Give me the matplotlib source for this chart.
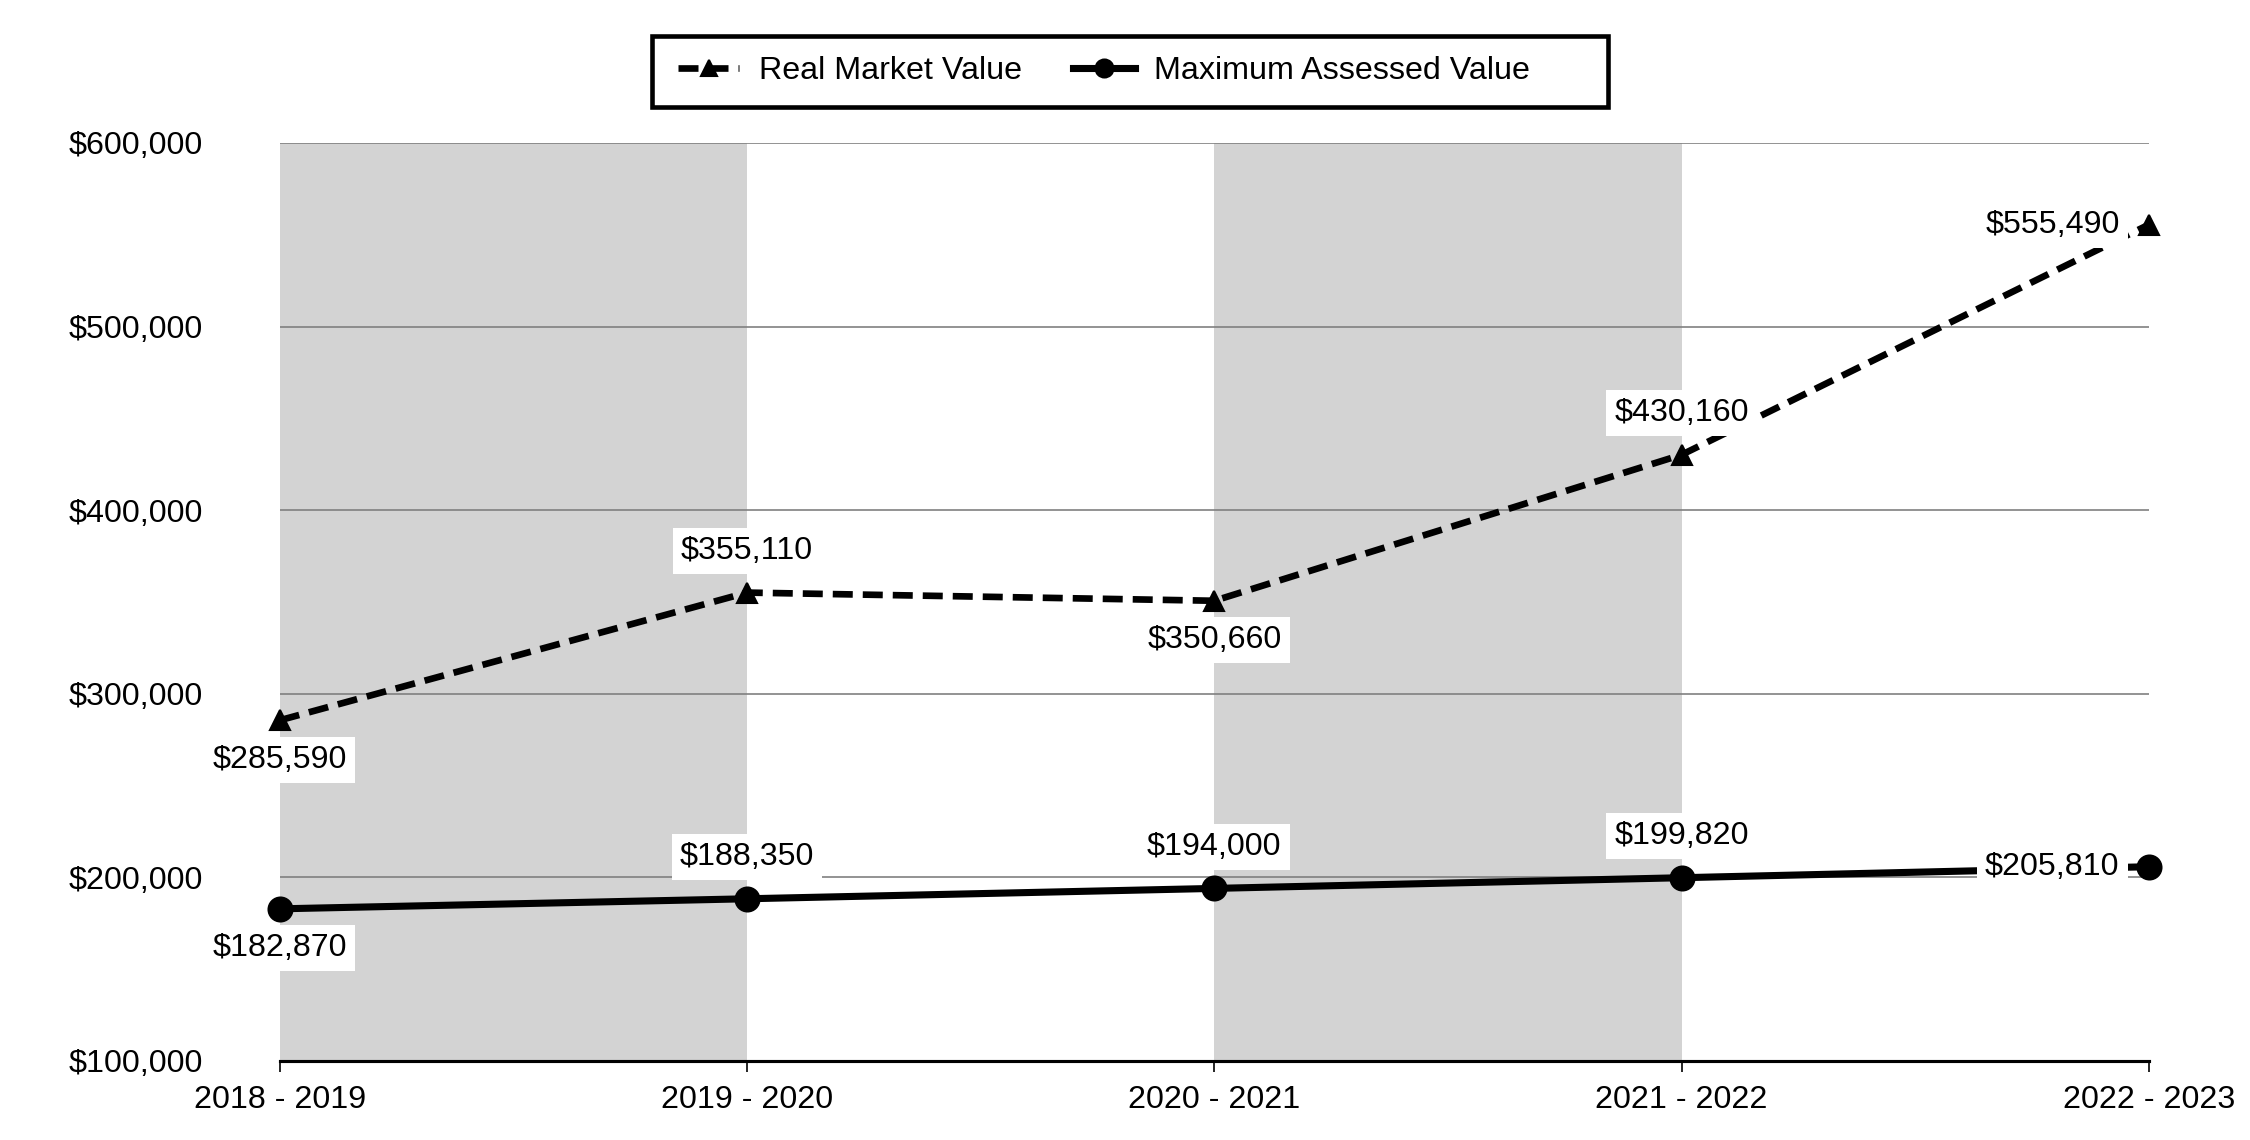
import matplotlib
matplotlib.use("Agg")
import matplotlib.pyplot as plt
from matplotlib.patches import Rectangle
from matplotlib.ticker import FuncFormatter

plt.rcParams["font.family"] = ["Liberation Sans", "DejaVu Sans"]

# data
years = ["2018 - 2019", "2019 - 2020", "2020 - 2021", "2021 - 2022", "2022 - 2023"]
real_market = [285590, 355110, 350660, 430160, 555490]
max_assessed = [182870, 188350, 194000, 199820, 205810]
yticks = [100000, 200000, 300000, 400000, 500000, 600000]

# where each value label sits relative to its point
rmv_place = ["below", "above", "below", "above", "left"]
mav_place = ["below", "above", "above", "above", "left"]

FS = 15.5
PLACES = {
    "below": dict(xytext=(0, -19), ha="center", va="center"),
    "above": dict(xytext=(0, 20), ha="center", va="center"),
    "left": dict(xytext=(-14, 0), ha="right", va="center"),
}

fig = plt.figure(figsize=(15, 7.6), dpi=150)
ax = fig.add_axes([0.1244, 0.0693, 0.8306, 0.8053])

x = list(range(len(years)))

# alternating shaded bands
for i in range(0, len(years) - 1, 2):
    ax.axvspan(x[i], x[i + 1], color="#d3d3d3", lw=0, zorder=0)

for y in yticks:
    ax.axhline(y, color="#808080", lw=0.8, zorder=1)

ax.plot(x, real_market, color="black", lw=3.2, ls=(0, (3.0, 1.5)),
        marker="^", ms=10, zorder=3, clip_on=False, label="Real Market Value")
ax.plot(x, max_assessed, color="black", lw=3.4, ls="-",
        marker="o", ms=11.5, zorder=3, clip_on=False, label="Maximum Assessed Value")

box = dict(boxstyle="square,pad=0.25", fc="white", ec="none")
for series, places in ((real_market, rmv_place), (max_assessed, mav_place)):
    for xi, v, p in zip(x, series, places):
        ax.annotate(f"${v:,.0f}", (xi, v), textcoords="offset points",
                    fontsize=FS, bbox=box, zorder=4, **PLACES[p])

ax.set_xlim(0, len(years) - 1)
ax.set_ylim(yticks[0], yticks[-1])
ax.set_xticks(x)
ax.set_xticklabels(years)
ax.set_yticks(yticks)
ax.yaxis.set_major_formatter(FuncFormatter(lambda v, _: f"${v:,.0f}"))

for s in ("top", "right", "left"):
    ax.spines[s].set_visible(False)
ax.spines["bottom"].set_linewidth(1.5)
ax.spines["bottom"].set_zorder(2)
ax.tick_params(axis="x", length=5.5, width=0.8, pad=6, labelsize=FS)
ax.tick_params(axis="y", length=0, pad=37, labelsize=FS)

# legend: frameless entries inside a hand-placed box (Excel-style padding)
fig.patches.append(Rectangle((0.2898, 0.906), 0.4249, 0.062, transform=fig.transFigure,
                             fc="white", ec="black", lw=2.2, zorder=5))
leg = fig.legend(loc="center left", bbox_to_anchor=(0.3013, 0.9374), ncol=2,
                 fontsize=FS, frameon=False, handlelength=1.9, handletextpad=0.6,
                 columnspacing=1.6, borderpad=0, borderaxespad=0, markerscale=0.75)
leg.set_zorder(6)

fig.savefig("out.png", dpi=150)
